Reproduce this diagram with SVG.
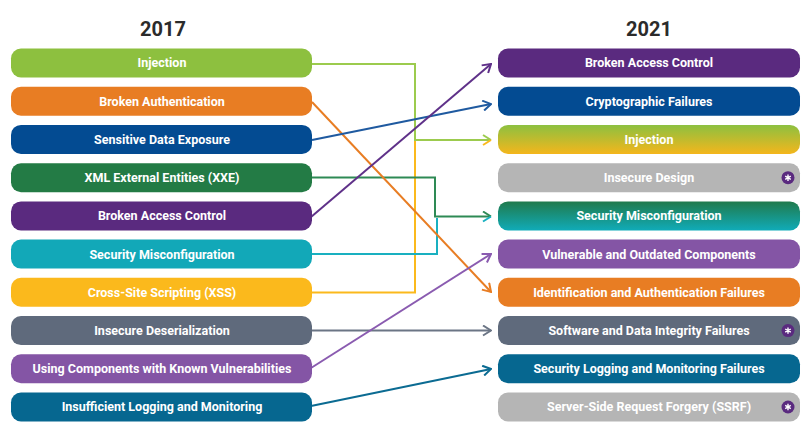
<svg xmlns="http://www.w3.org/2000/svg" xmlns:xlink="http://www.w3.org/1999/xlink" width="807" height="438" viewBox="0 0 807 438">
<style>
.title{font-family:Roboto,"Liberation Sans",sans-serif;font-weight:700;font-size:20px;fill:#2b2b2b;text-anchor:middle}
.lbl{font-family:Roboto,"Liberation Sans",sans-serif;font-weight:700;font-size:12.5px;fill:#ffffff;text-anchor:middle}
.box{stroke:none}
.c{fill:none;stroke-width:2}
</style>
<defs>
<linearGradient id="gInj" x1="0" y1="0" x2="0" y2="1"><stop offset="0" stop-color="#8cc040"/><stop offset="1" stop-color="#f4b61c"/></linearGradient>
<linearGradient id="gMis" x1="0" y1="0" x2="0" y2="1"><stop offset="0" stop-color="#207a4c"/><stop offset="1" stop-color="#10abb8"/></linearGradient>
<g id="newIcon"><circle r="6.5" fill="#5a2a7f"/><path d="M0,-3.2V3.2M-2.8,-1.6L2.8,1.6M-2.8,1.6L2.8,-1.6" stroke="#fff" stroke-width="1.4" fill="none"/></g>
<marker id="aOr" markerUnits="userSpaceOnUse" viewBox="0 0 10 12" refX="9" refY="6" markerWidth="10" markerHeight="12" orient="auto"><path d="M1,1L9,6L1,11" fill="none" stroke="#e87d23" stroke-width="2"/></marker>
<marker id="aBl" markerUnits="userSpaceOnUse" viewBox="0 0 10 12" refX="9" refY="6" markerWidth="10" markerHeight="12" orient="auto"><path d="M1,1L9,6L1,11" fill="none" stroke="#1f5aa0" stroke-width="2"/></marker>
<marker id="aPu" markerUnits="userSpaceOnUse" viewBox="0 0 10 12" refX="9" refY="6" markerWidth="10" markerHeight="12" orient="auto"><path d="M1,1L9,6L1,11" fill="none" stroke="#5f3189" stroke-width="2"/></marker>
<marker id="aGr" markerUnits="userSpaceOnUse" viewBox="0 0 10 12" refX="9" refY="6" markerWidth="10" markerHeight="12" orient="auto"><path d="M1,1L9,6L1,11" fill="none" stroke="#6b7585" stroke-width="2"/></marker>
<marker id="aLp" markerUnits="userSpaceOnUse" viewBox="0 0 10 12" refX="9" refY="6" markerWidth="10" markerHeight="12" orient="auto"><path d="M1,1L9,6L1,11" fill="none" stroke="#8a5bb0" stroke-width="2"/></marker>
<marker id="aTb" markerUnits="userSpaceOnUse" viewBox="0 0 10 12" refX="9" refY="6" markerWidth="10" markerHeight="12" orient="auto"><path d="M1,1L9,6L1,11" fill="none" stroke="#0b6b92" stroke-width="2"/></marker>
<marker id="aInj" markerUnits="userSpaceOnUse" viewBox="0 0 10 12" refX="9" refY="6" markerWidth="10" markerHeight="12" orient="auto"><path d="M1,1L9,6" fill="none" stroke="#9ccb4e" stroke-width="2"/><path d="M9,6L1,11" fill="none" stroke="#fbb91c" stroke-width="2"/></marker>
<marker id="aMis" markerUnits="userSpaceOnUse" viewBox="0 0 10 12" refX="9" refY="6" markerWidth="10" markerHeight="12" orient="auto"><path d="M1,1L9,6" fill="none" stroke="#2e8a55" stroke-width="2"/><path d="M9,6L1,11" fill="none" stroke="#19b0c0" stroke-width="2"/></marker>
</defs>
<rect width="807" height="438" fill="#ffffff"/>
<text class="title" x="163" y="36">2017</text>
<text class="title" x="649" y="36">2021</text>

<g id="connectors">
<polyline class="c" stroke="#fbb91c" points="312,292.5 415,292.5 415,140"/>
<polyline class="c" stroke="#9ccb4e" points="312,64 415,64 415,140 491,140" marker-end="url(#aInj)"/>
<polyline class="c" stroke="#19b0c0" points="312,254 437,254 437,218"/>
<polyline class="c" stroke="#2e8a55" points="312,177.5 435,177.5 435,216.5 491,216.5" marker-end="url(#aMis)"/>
<line class="c" stroke="#e87d23" x1="312" y1="102" x2="491" y2="292" marker-end="url(#aOr)"/>
<line class="c" stroke="#1f5aa0" x1="312" y1="140" x2="491" y2="104" marker-end="url(#aBl)"/>
<line class="c" stroke="#5f3189" x1="311" y1="217" x2="491" y2="64" marker-end="url(#aPu)"/>
<line class="c" stroke="#6b7585" x1="312" y1="330.5" x2="491" y2="330.5" marker-end="url(#aGr)"/>
<line class="c" stroke="#8a5bb0" x1="311" y1="368" x2="491" y2="254" marker-end="url(#aLp)"/>
<line class="c" stroke="#0b6b92" x1="311" y1="406" x2="491" y2="369" marker-end="url(#aTb)"/>
</g>

<g id="l-injection"><rect class="box" x="11" y="48.5" width="301" height="29" rx="10" fill="#8dc03f"/><text class="lbl" x="162" y="67.4">Injection</text></g>
<g id="l-broken-auth"><rect class="box" x="11" y="86.7" width="301" height="29" rx="10" fill="#e87d23"/><text class="lbl" x="162" y="105.6">Broken Authentication</text></g>
<g id="l-sensitive"><rect class="box" x="11" y="124.9" width="301" height="29" rx="10" fill="#034b92"/><text class="lbl" x="162" y="143.8">Sensitive Data Exposure</text></g>
<g id="l-xxe"><rect class="box" x="11" y="163.2" width="301" height="29" rx="10" fill="#237b45"/><text class="lbl" x="162" y="182.1">XML External Entities (XXE)</text></g>
<g id="l-bac"><rect class="box" x="11" y="201.4" width="301" height="29" rx="10" fill="#5a2a7f"/><text class="lbl" x="162" y="220.3">Broken Access Control</text></g>
<g id="l-misconfig"><rect class="box" x="11" y="239.6" width="301" height="29" rx="10" fill="#12a8b8"/><text class="lbl" x="162" y="258.5">Security Misconfiguration</text></g>
<g id="l-xss"><rect class="box" x="11" y="277.8" width="301" height="29" rx="10" fill="#fbb91c"/><text class="lbl" x="162" y="296.7">Cross-Site Scripting (XSS)</text></g>
<g id="l-deser"><rect class="box" x="11" y="316.1" width="301" height="29" rx="10" fill="#5f6a7c"/><text class="lbl" x="162" y="335">Insecure Deserialization</text></g>
<g id="l-components"><rect class="box" x="11" y="354.3" width="301" height="29" rx="10" fill="#8455a5"/><text class="lbl" x="162" y="373.2">Using Components with Known Vulnerabilities</text></g>
<g id="l-logging"><rect class="box" x="11" y="392.5" width="301" height="29" rx="10" fill="#066790"/><text class="lbl" x="162" y="411.4">Insufficient Logging and Monitoring</text></g>

<g id="r-bac"><rect class="box" x="498" y="48.5" width="302" height="29" rx="10" fill="#5a2a7f"/><text class="lbl" x="649" y="67.4">Broken Access Control</text></g>
<g id="r-crypto"><rect class="box" x="498" y="86.7" width="302" height="29" rx="10" fill="#034b92"/><text class="lbl" x="649" y="105.6">Cryptographic Failures</text></g>
<g id="r-injection"><rect class="box" x="498" y="124.9" width="302" height="29" rx="10" fill="url(#gInj)"/><text class="lbl" x="649" y="143.8">Injection</text></g>
<g id="r-design"><rect class="box" x="498" y="163.2" width="302" height="29" rx="10" fill="#b5b5b5"/><text class="lbl" x="649" y="182.1">Insecure Design</text><use xlink:href="#newIcon" x="788" y="177.7"/></g>
<g id="r-misconfig"><rect class="box" x="498" y="201.4" width="302" height="29" rx="10" fill="url(#gMis)"/><text class="lbl" x="649" y="220.3">Security Misconfiguration</text></g>
<g id="r-components"><rect class="box" x="498" y="239.6" width="302" height="29" rx="10" fill="#8455a5"/><text class="lbl" x="649" y="258.5">Vulnerable and Outdated Components</text></g>
<g id="r-auth"><rect class="box" x="498" y="277.8" width="302" height="29" rx="10" fill="#e87d23"/><text class="lbl" x="649" y="296.7">Identification and Authentication Failures</text></g>
<g id="r-integrity"><rect class="box" x="498" y="316.1" width="302" height="29" rx="10" fill="#5f6a7c"/><text class="lbl" x="649" y="335">Software and Data Integrity Failures</text><use xlink:href="#newIcon" x="788" y="330.6"/></g>
<g id="r-logging"><rect class="box" x="498" y="354.3" width="302" height="29" rx="10" fill="#066790"/><text class="lbl" x="649" y="373.2">Security Logging and Monitoring Failures</text></g>
<g id="r-ssrf"><rect class="box" x="498" y="392.5" width="302" height="29" rx="10" fill="#b5b5b5"/><text class="lbl" x="649" y="411.4">Server-Side Request Forgery (SSRF)</text><use xlink:href="#newIcon" x="788" y="407"/></g>
</svg>
